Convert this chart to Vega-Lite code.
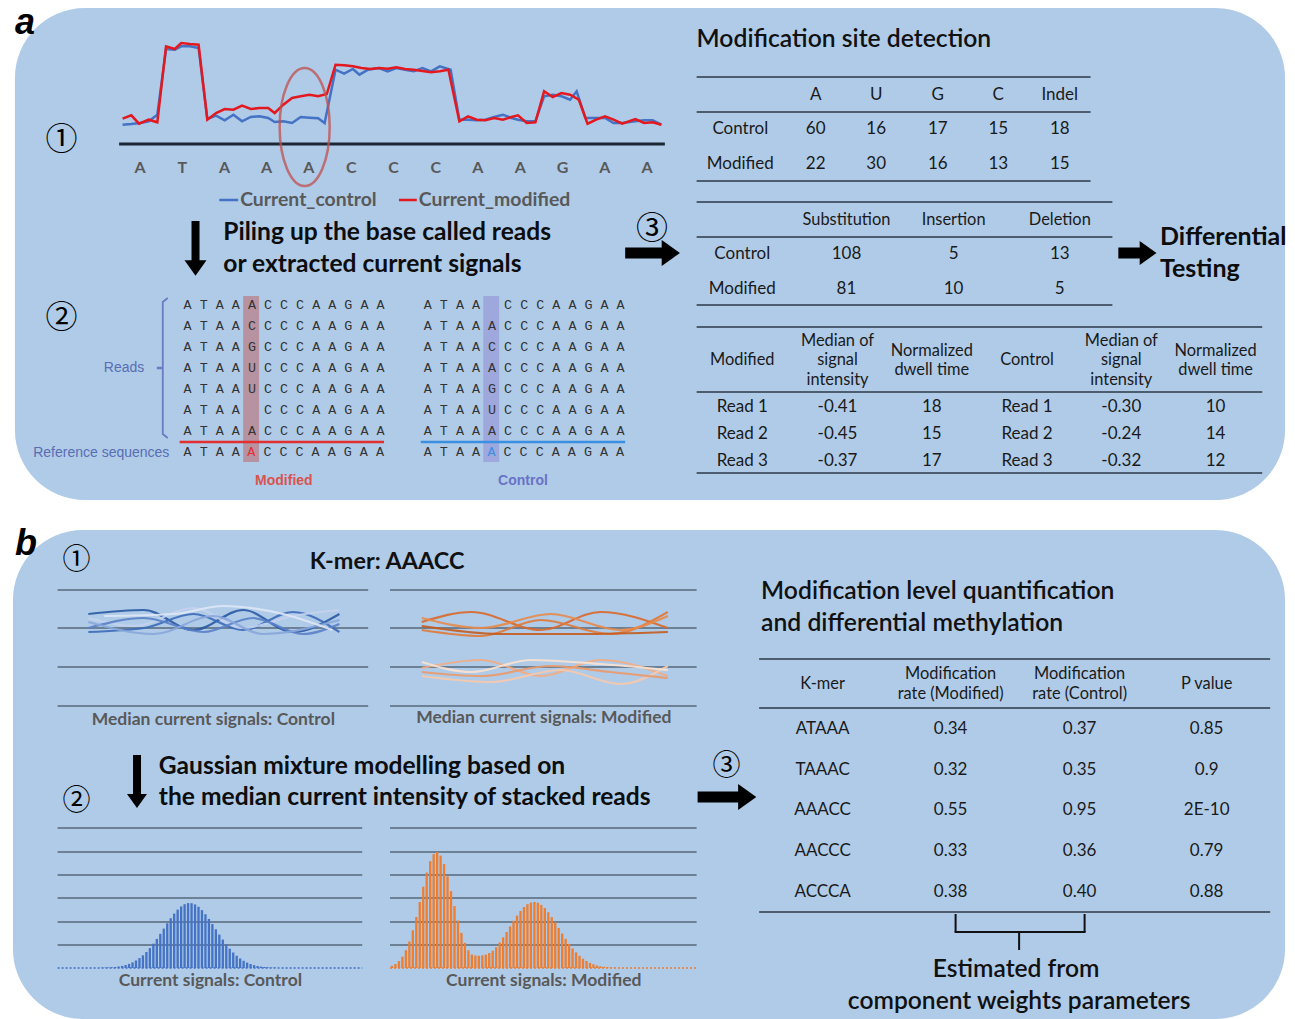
{
"$schema":"https://vega.github.io/schema/vega-lite/v6.json",
"width":1295,"height":1019,
"autosize":{"type":"none"},
"padding":0,
"background":"#ffffff",
"config":{"view":{"stroke":null}},
"resolve":{"scale":{"color":"independent"}},
"encoding":{
 "x":{"field":"x","type":"quantitative","scale":{"domain":[0,1295],"nice":false,"zero":false},"axis":null},
 "y":{"field":"y","type":"quantitative","scale":{"domain":[0,1019],"nice":false,"zero":false,"reverse":true},"axis":null}
},
"datasets":{
 "panels":[{"x":10,"x2":1290,"y":8,"y2":500},{"x":8,"x2":1290,"y":530,"y2":1019}],
 "hl":[{"x":240,"x2":256,"y":296,"y2":462,"k":"mod"},{"x":482,"x2":498,"y":296,"y2":462,"k":"ctl"}],
 "rules":[
  {"x":115,"y":144,"x2":665,"y2":144,"k":"axis"},
  {"x":697,"y":77,"x2":1094,"y2":77,"k":"tbl"},{"x":697,"y":112,"x2":1094,"y2":112,"k":"tbl"},{"x":697,"y":181,"x2":1094,"y2":181,"k":"tbl"},
  {"x":697,"y":202,"x2":1116,"y2":202,"k":"tbl"},{"x":697,"y":237,"x2":1116,"y2":237,"k":"tbl"},{"x":697,"y":305,"x2":1116,"y2":305,"k":"tbl"},
  {"x":697,"y":327,"x2":1267,"y2":327,"k":"tbl"},{"x":697,"y":392,"x2":1267,"y2":392,"k":"tbl"},{"x":697,"y":473,"x2":1267,"y2":473,"k":"tbl"},
  {"x":760,"y":659,"x2":1275,"y2":659,"k":"tbl"},{"x":760,"y":708,"x2":1275,"y2":708,"k":"tbl"},{"x":760,"y":912,"x2":1275,"y2":912,"k":"tbl"},
  {"x":53,"y":590,"x2":366,"y2":590,"k":"grid"},{"x":53,"y":628,"x2":366,"y2":628,"k":"grid"},{"x":53,"y":667,"x2":366,"y2":667,"k":"grid"},{"x":53,"y":706,"x2":366,"y2":706,"k":"grid"},
  {"x":388,"y":590,"x2":697,"y2":590,"k":"grid"},{"x":388,"y":628,"x2":697,"y2":628,"k":"grid"},{"x":388,"y":667,"x2":697,"y2":667,"k":"grid"},{"x":388,"y":706,"x2":697,"y2":706,"k":"grid"},
  {"x":53,"y":828,"x2":360,"y2":828,"k":"grid"},{"x":53,"y":852,"x2":360,"y2":852,"k":"grid"},{"x":53,"y":875,"x2":360,"y2":875,"k":"grid"},{"x":53,"y":898,"x2":360,"y2":898,"k":"grid"},{"x":53,"y":922,"x2":360,"y2":922,"k":"grid"},{"x":53,"y":945,"x2":360,"y2":945,"k":"grid"},
  {"x":388,"y":828,"x2":697,"y2":828,"k":"grid"},{"x":388,"y":852,"x2":697,"y2":852,"k":"grid"},{"x":388,"y":875,"x2":697,"y2":875,"k":"grid"},{"x":388,"y":898,"x2":697,"y2":898,"k":"grid"},{"x":388,"y":922,"x2":697,"y2":922,"k":"grid"},{"x":388,"y":945,"x2":697,"y2":945,"k":"grid"},
  {"x":53,"y":968,"x2":360,"y2":968,"k":"dotb"},{"x":388,"y":968,"x2":697,"y2":968,"k":"doto"},
  {"x":958,"y":914,"x2":958,"y2":932,"k":"brk"},{"x":957,"y":932,"x2":1089,"y2":932,"k":"brk"},{"x":1088,"y":914,"x2":1088,"y2":932,"k":"brk"},{"x":1022,"y":932,"x2":1022,"y2":950,"k":"brk"},
  {"x":216,"y":200,"x2":235,"y2":200,"k":"legc"},{"x":397,"y":200,"x2":415,"y2":200,"k":"legm"},
  {"x":176,"y":442,"x2":382,"y2":442,"k":"ulm"},{"x":419,"y":442,"x2":625,"y2":442,"k":"ulc"},
  {"x":153,"y":368,"x2":159,"y2":368,"k":"tick"},
  {"x":192,"y":221,"x2":192,"y2":262,"k":"shv"},{"x":133,"y":755,"x2":133,"y2":796,"k":"shv"},
  {"x":625,"y":253,"x2":666,"y2":253,"k":"shh"},{"x":1122,"y":253,"x2":1146,"y2":253,"k":"shh"},{"x":698,"y":797,"x2":742,"y2":797,"k":"shh"}
 ],
 "heads":[
  {"x":192,"y":268,"d":"down","s":"big"},{"x":133,"y":801,"d":"down","s":"small"},
  {"x":671,"y":253,"d":"right","s":"big"},{"x":1152,"y":253,"d":"right","s":"small"},{"x":748,"y":797,"d":"right","s":"big"}
 ],
 "brkt":[{"x":164,"y":298,"o":0},{"x":159,"y":302,"o":1},{"x":159,"y":434,"o":2},{"x":164,"y":438,"o":3}],
 "ellipse":[{"x":302,"y":127}],
 "sig":[
  {"s":"control","x":118.5,"y":124.7},{"s":"control","x":127.3,"y":124},{"s":"control","x":136,"y":123},{"s":"control","x":144.8,"y":121.3},{"s":"control","x":153.5,"y":114.7},{"s":"control","x":162.3,"y":49},{"s":"control","x":171.1,"y":49.7},{"s":"control","x":177.6,"y":46.3},{"s":"control","x":186.4,"y":46.3},{"s":"control","x":195.1,"y":48},{"s":"control","x":203.9,"y":119},{"s":"control","x":212.7,"y":115.7},{"s":"control","x":221.4,"y":120.3},{"s":"control","x":230.2,"y":114.7},{"s":"control","x":238.9,"y":121.3},{"s":"control","x":247.7,"y":117},{"s":"control","x":256.4,"y":116.3},{"s":"control","x":265.2,"y":118},{"s":"control","x":271.8,"y":122},{"s":"control","x":280.5,"y":121.3},{"s":"control","x":289.3,"y":123},{"s":"control","x":298,"y":117},{"s":"control","x":306.8,"y":117.7},{"s":"control","x":315.6,"y":118.3},{"s":"control","x":322.1,"y":123},{"s":"control","x":333.1,"y":69.7},{"s":"control","x":341.8,"y":73.7},{"s":"control","x":350.6,"y":69},{"s":"control","x":357.2,"y":74.7},{"s":"control","x":365.9,"y":69.7},{"s":"control","x":376.9,"y":68},{"s":"control","x":385.6,"y":71.3},{"s":"control","x":394.4,"y":68},{"s":"control","x":403.1,"y":69.7},{"s":"control","x":411.9,"y":71.3},{"s":"control","x":420.7,"y":68},{"s":"control","x":429.4,"y":71.3},{"s":"control","x":438.2,"y":66.3},{"s":"control","x":449.1,"y":69.7},{"s":"control","x":457.9,"y":119.7},{"s":"control","x":466.6,"y":119.7},{"s":"control","x":475.4,"y":120.3},{"s":"control","x":484.1,"y":119.7},{"s":"control","x":492.9,"y":117},{"s":"control","x":501.7,"y":114.7},{"s":"control","x":510.4,"y":118},{"s":"control","x":517,"y":119.7},{"s":"control","x":525.7,"y":121.3},{"s":"control","x":534.5,"y":121.3},{"s":"control","x":543.3,"y":96.3},{"s":"control","x":552,"y":94.7},{"s":"control","x":560.8,"y":96.3},{"s":"control","x":569.5,"y":99.7},{"s":"control","x":576.1,"y":91.3},{"s":"control","x":584.9,"y":118},{"s":"control","x":595.8,"y":118},{"s":"control","x":604.7,"y":118},{"s":"control","x":613.3,"y":123},{"s":"control","x":622.1,"y":123},{"s":"control","x":635.2,"y":121.3},{"s":"control","x":644,"y":120.3},{"s":"control","x":652.7,"y":120.3},{"s":"control","x":661.5,"y":124.7},
  {"s":"modified","x":118.5,"y":118.7},{"s":"modified","x":127.3,"y":115.3},{"s":"modified","x":135.1,"y":123.7},{"s":"modified","x":144.8,"y":119.7},{"s":"modified","x":153.5,"y":122.3},{"s":"modified","x":162.3,"y":46.3},{"s":"modified","x":171.1,"y":49},{"s":"modified","x":177.6,"y":43},{"s":"modified","x":186.4,"y":44},{"s":"modified","x":195.1,"y":44.7},{"s":"modified","x":203.9,"y":119.7},{"s":"modified","x":212.7,"y":113},{"s":"modified","x":221.4,"y":109},{"s":"modified","x":230.2,"y":109.7},{"s":"modified","x":238.9,"y":105.7},{"s":"modified","x":247.7,"y":109},{"s":"modified","x":256.4,"y":108},{"s":"modified","x":265.2,"y":108},{"s":"modified","x":271.8,"y":113},{"s":"modified","x":280.5,"y":104.7},{"s":"modified","x":289.3,"y":98},{"s":"modified","x":298,"y":96.3},{"s":"modified","x":306.8,"y":94.7},{"s":"modified","x":315.6,"y":96.3},{"s":"modified","x":324.3,"y":94},{"s":"modified","x":333.1,"y":64.7},{"s":"modified","x":341.8,"y":65.3},{"s":"modified","x":350.6,"y":66.3},{"s":"modified","x":359.3,"y":68},{"s":"modified","x":368.1,"y":69},{"s":"modified","x":376.9,"y":68},{"s":"modified","x":385.6,"y":68.7},{"s":"modified","x":394.4,"y":67.3},{"s":"modified","x":403.1,"y":69},{"s":"modified","x":411.9,"y":69.7},{"s":"modified","x":420.7,"y":71},{"s":"modified","x":429.4,"y":72.3},{"s":"modified","x":438.2,"y":71.3},{"s":"modified","x":446.9,"y":69.7},{"s":"modified","x":457.9,"y":121.3},{"s":"modified","x":466.6,"y":116.3},{"s":"modified","x":475.4,"y":119.7},{"s":"modified","x":484.1,"y":120.3},{"s":"modified","x":492.9,"y":118},{"s":"modified","x":501.7,"y":119.7},{"s":"modified","x":510.4,"y":117},{"s":"modified","x":517,"y":115.3},{"s":"modified","x":525.7,"y":123},{"s":"modified","x":534.5,"y":122.3},{"s":"modified","x":543.3,"y":91.3},{"s":"modified","x":552,"y":97},{"s":"modified","x":560.8,"y":93},{"s":"modified","x":569.5,"y":94.7},{"s":"modified","x":578.3,"y":99.7},{"s":"modified","x":587.1,"y":123.7},{"s":"modified","x":595.8,"y":119.7},{"s":"modified","x":604.7,"y":116.3},{"s":"modified","x":613.3,"y":119.7},{"s":"modified","x":622.1,"y":123.7},{"s":"modified","x":635.2,"y":119},{"s":"modified","x":644,"y":123},{"s":"modified","x":652.7,"y":122.3},{"s":"modified","x":661.5,"y":124.7}
 ],
 "wave":[
  {"c":"b1","x":84,"y":614},{"c":"b1","x":140,"y":610},{"c":"b1","x":190,"y":630},{"c":"b1","x":240,"y":610},{"c":"b1","x":290,"y":632},{"c":"b1","x":337,"y":614},
  {"c":"b2","x":84,"y":632},{"c":"b2","x":140,"y":628},{"c":"b2","x":190,"y":614},{"c":"b2","x":240,"y":630},{"c":"b2","x":290,"y":612},{"c":"b2","x":337,"y":632},
  {"c":"b3","x":84,"y":618},{"c":"b3","x":130,"y":626},{"c":"b3","x":190,"y":608},{"c":"b3","x":240,"y":628},{"c":"b3","x":290,"y":616},{"c":"b3","x":337,"y":610},
  {"c":"b4","x":84,"y":628},{"c":"b4","x":140,"y":618},{"c":"b4","x":200,"y":632},{"c":"b4","x":250,"y":618},{"c":"b4","x":300,"y":634},{"c":"b4","x":337,"y":624},
  {"c":"b5","x":84,"y":622},{"c":"b5","x":150,"y":634},{"c":"b5","x":210,"y":616},{"c":"b5","x":260,"y":634},{"c":"b5","x":337,"y":620},
  {"c":"b6","x":100,"y":616},{"c":"b6","x":170,"y":614},{"c":"b6","x":220,"y":606},{"c":"b6","x":280,"y":614},{"c":"b6","x":330,"y":630},
  {"c":"o1","x":420,"y":622},{"c":"o1","x":470,"y":612},{"c":"o1","x":540,"y":630},{"c":"o1","x":600,"y":612},{"c":"o1","x":668,"y":628},
  {"c":"o2","x":420,"y":630},{"c":"o2","x":480,"y":636},{"c":"o2","x":540,"y":620},{"c":"o2","x":610,"y":634},{"c":"o2","x":668,"y":612},
  {"c":"o3","x":420,"y":626},{"c":"o3","x":500,"y":634},{"c":"o3","x":580,"y":634},{"c":"o3","x":668,"y":632},
  {"c":"o4","x":420,"y":618},{"c":"o4","x":480,"y":628},{"c":"o4","x":550,"y":614},{"c":"o4","x":620,"y":630},{"c":"o4","x":668,"y":616},
  {"c":"l1","x":420,"y":668},{"c":"l1","x":480,"y":660},{"c":"l1","x":540,"y":676},{"c":"l1","x":600,"y":660},{"c":"l1","x":668,"y":676},
  {"c":"l2","x":420,"y":676},{"c":"l2","x":490,"y":682},{"c":"l2","x":560,"y":670},{"c":"l2","x":620,"y":684},{"c":"l2","x":668,"y":666},
  {"c":"l3","x":420,"y":662},{"c":"l3","x":470,"y":672},{"c":"l3","x":530,"y":660},{"c":"l3","x":600,"y":664},{"c":"l3","x":668,"y":670},
  {"c":"l4","x":420,"y":672},{"c":"l4","x":480,"y":676},{"c":"l4","x":550,"y":666},{"c":"l4","x":610,"y":672},{"c":"l4","x":668,"y":678}
 ],
 "hist":[
  {"s":"c","x":97,"y":967.8},{"s":"c","x":100.5,"y":967.7},{"s":"c","x":104,"y":967.5},{"s":"c","x":107.5,"y":967.3},{"s":"c","x":111,"y":967},{"s":"c","x":114.5,"y":966.5},{"s":"c","x":118,"y":965.9},{"s":"c","x":121.5,"y":965},{"s":"c","x":125,"y":963.9},{"s":"c","x":128.5,"y":962.4},{"s":"c","x":132,"y":960.5},{"s":"c","x":135.5,"y":958.1},{"s":"c","x":139,"y":955.3},{"s":"c","x":142.5,"y":952},{"s":"c","x":146,"y":948.1},{"s":"c","x":149.5,"y":943.7},{"s":"c","x":153,"y":938.9},{"s":"c","x":156.5,"y":933.8},{"s":"c","x":160,"y":928.6},{"s":"c","x":163.5,"y":923.3},{"s":"c","x":167,"y":918.2},{"s":"c","x":170.5,"y":913.6},{"s":"c","x":174,"y":909.6},{"s":"c","x":177.5,"y":906.4},{"s":"c","x":181,"y":904.2},{"s":"c","x":184.5,"y":903.1},{"s":"c","x":188,"y":903.2},{"s":"c","x":191.5,"y":904.4},{"s":"c","x":195,"y":906.8},{"s":"c","x":198.5,"y":910.1},{"s":"c","x":202,"y":914.2},{"s":"c","x":205.5,"y":918.9},{"s":"c","x":209,"y":924.1},{"s":"c","x":212.5,"y":929.3},{"s":"c","x":216,"y":934.6},{"s":"c","x":219.5,"y":939.6},{"s":"c","x":223,"y":944.4},{"s":"c","x":226.5,"y":948.7},{"s":"c","x":230,"y":952.5},{"s":"c","x":233.5,"y":955.8},{"s":"c","x":237,"y":958.5},{"s":"c","x":240.5,"y":960.8},{"s":"c","x":244,"y":962.6},{"s":"c","x":247.5,"y":964},{"s":"c","x":251,"y":965.1},{"s":"c","x":254.5,"y":966},{"s":"c","x":258,"y":966.6},{"s":"c","x":261.5,"y":967},{"s":"c","x":265,"y":967.4},{"s":"c","x":268.5,"y":967.6},{"s":"c","x":272,"y":967.7},
  {"s":"m","x":390,"y":965.8},{"s":"m","x":393.5,"y":964},{"s":"m","x":397,"y":961.1},{"s":"m","x":400.5,"y":956.7},{"s":"m","x":404,"y":950.3},{"s":"m","x":407.5,"y":941.5},{"s":"m","x":411,"y":930.3},{"s":"m","x":414.5,"y":917},{"s":"m","x":418,"y":902},{"s":"m","x":421.5,"y":886.7},{"s":"m","x":425,"y":872.6},{"s":"m","x":428.5,"y":861.2},{"s":"m","x":432,"y":854},{"s":"m","x":435.5,"y":852},{"s":"m","x":439,"y":855.6},{"s":"m","x":442.5,"y":864.1},{"s":"m","x":446,"y":876.4},{"s":"m","x":449.5,"y":891.1},{"s":"m","x":453,"y":906.1},{"s":"m","x":456.5,"y":920.5},{"s":"m","x":460,"y":932.9},{"s":"m","x":463.5,"y":942.9},{"s":"m","x":467,"y":950.3},{"s":"m","x":470.5,"y":954.5},{"s":"m","x":474,"y":955.5},{"s":"m","x":477.5,"y":955.8},{"s":"m","x":481,"y":955.4},{"s":"m","x":484.5,"y":954.6},{"s":"m","x":488,"y":953},{"s":"m","x":491.5,"y":950.8},{"s":"m","x":495,"y":947.2},{"s":"m","x":498.5,"y":942.5},{"s":"m","x":502,"y":937.4},{"s":"m","x":505.5,"y":932},{"s":"m","x":509,"y":926.4},{"s":"m","x":512.5,"y":920.8},{"s":"m","x":516,"y":915.6},{"s":"m","x":519.5,"y":911},{"s":"m","x":523,"y":907.1},{"s":"m","x":526.5,"y":904.2},{"s":"m","x":530,"y":902.5},{"s":"m","x":533.5,"y":902},{"s":"m","x":537,"y":902.8},{"s":"m","x":540.5,"y":904.9},{"s":"m","x":544,"y":908.1},{"s":"m","x":547.5,"y":912.2},{"s":"m","x":551,"y":917.1},{"s":"m","x":554.5,"y":922.4},{"s":"m","x":558,"y":928},{"s":"m","x":561.5,"y":933.5},{"s":"m","x":565,"y":938.9},{"s":"m","x":568.5,"y":943.9},{"s":"m","x":572,"y":948.5},{"s":"m","x":575.5,"y":952.4},{"s":"m","x":579,"y":955.9},{"s":"m","x":582.5,"y":958.7},{"s":"m","x":586,"y":961},{"s":"m","x":589.5,"y":962.9},{"s":"m","x":593,"y":964.3},{"s":"m","x":596.5,"y":965.4},{"s":"m","x":600,"y":966.2},{"s":"m","x":603.5,"y":966.8},{"s":"m","x":607,"y":967.2},{"s":"m","x":610.5,"y":967.5},{"s":"m","x":614,"y":967.7}
 ],
 "t":[
  {"g":"P","x":10,"y":34,"text":"a"},{"g":"P","x":10,"y":555,"text":"b"},
  {"g":"C1","x":57,"y":140,"text":"①"},{"g":"C1","x":57,"y":318,"text":"②"},{"g":"C1","x":652,"y":229,"text":"③"},
  {"g":"C2","x":72,"y":561,"text":"①"},{"g":"C2","x":72,"y":802,"text":"②"},{"g":"C2","x":727,"y":767,"text":"③"},
  {"g":"H","x":220,"y":233,"text":"Piling up the base called reads"},{"g":"H","x":220,"y":265,"text":"or extracted current signals"},
  {"g":"HD","x":1164,"y":237,"text":"Differential"},{"g":"HD","x":1164,"y":269,"text":"Testing"},
  {"g":"H","x":155,"y":767,"text":"Gaussian mixture modelling based on"},{"g":"H","x":155,"y":798,"text":"the median current intensity of stacked reads"},
  {"g":"T","x":697,"y":40,"text":"Modification site detection"},
  {"g":"T","x":762,"y":592,"text":"Modification level quantification"},{"g":"T","x":762,"y":624,"text":"and differential methylation"},
  {"g":"KB","x":385,"y":562,"text":"K-mer: AAACC"},{"g":"K","x":1019,"y":970,"text":"Estimated from"},{"g":"K","x":1022,"y":1002,"text":"component weights parameters"},
  {"g":"TB","x":817,"y":95,"text":"A"},{"g":"TB","x":878,"y":95,"text":"U"},{"g":"TB","x":940,"y":95,"text":"G"},{"g":"TB","x":1001,"y":95,"text":"C"},{"g":"TB","x":1063,"y":95,"text":"Indel"},
  {"g":"TB","x":741,"y":129,"text":"Control"},{"g":"TB","x":817,"y":129,"text":"60"},{"g":"TB","x":878,"y":129,"text":"16"},{"g":"TB","x":940,"y":129,"text":"17"},{"g":"TB","x":1001,"y":129,"text":"15"},{"g":"TB","x":1063,"y":129,"text":"18"},
  {"g":"TB","x":741,"y":164,"text":"Modified"},{"g":"TB","x":817,"y":164,"text":"22"},{"g":"TB","x":878,"y":164,"text":"30"},{"g":"TB","x":940,"y":164,"text":"16"},{"g":"TB","x":1001,"y":164,"text":"13"},{"g":"TB","x":1063,"y":164,"text":"15"},
  {"g":"TH","x":848,"y":220,"text":"Substitution"},{"g":"TH","x":956,"y":220,"text":"Insertion"},{"g":"TH","x":1063,"y":220,"text":"Deletion"},
  {"g":"TB","x":743,"y":254,"text":"Control"},{"g":"TB","x":848,"y":254,"text":"108"},{"g":"TB","x":956,"y":254,"text":"5"},{"g":"TB","x":1063,"y":254,"text":"13"},
  {"g":"TB","x":743,"y":289,"text":"Modified"},{"g":"TB","x":848,"y":289,"text":"81"},{"g":"TB","x":956,"y":289,"text":"10"},{"g":"TB","x":1063,"y":289,"text":"5"},
  {"g":"TH","x":743,"y":360,"text":"Modified"},{"g":"TH","x":839,"y":341,"text":"Median of"},{"g":"TH","x":839,"y":360,"text":"signal"},{"g":"TH","x":839,"y":380,"text":"intensity"},
  {"g":"TH","x":934,"y":351,"text":"Normalized"},{"g":"TH","x":934,"y":370,"text":"dwell time"},
  {"g":"TH","x":1030,"y":360,"text":"Control"},{"g":"TH","x":1125,"y":341,"text":"Median of"},{"g":"TH","x":1125,"y":360,"text":"signal"},{"g":"TH","x":1125,"y":380,"text":"intensity"},
  {"g":"TH","x":1220,"y":351,"text":"Normalized"},{"g":"TH","x":1220,"y":370,"text":"dwell time"},
  {"g":"TB","x":743,"y":407,"text":"Read 1"},{"g":"TB","x":839,"y":407,"text":"-0.41"},{"g":"TB","x":934,"y":407,"text":"18"},{"g":"TB","x":1030,"y":407,"text":"Read 1"},{"g":"TB","x":1125,"y":407,"text":"-0.30"},{"g":"TB","x":1220,"y":407,"text":"10"},
  {"g":"TB","x":743,"y":434,"text":"Read 2"},{"g":"TB","x":839,"y":434,"text":"-0.45"},{"g":"TB","x":934,"y":434,"text":"15"},{"g":"TB","x":1030,"y":434,"text":"Read 2"},{"g":"TB","x":1125,"y":434,"text":"-0.24"},{"g":"TB","x":1220,"y":434,"text":"14"},
  {"g":"TB","x":743,"y":461,"text":"Read 3"},{"g":"TB","x":839,"y":461,"text":"-0.37"},{"g":"TB","x":934,"y":461,"text":"17"},{"g":"TB","x":1030,"y":461,"text":"Read 3"},{"g":"TB","x":1125,"y":461,"text":"-0.32"},{"g":"TB","x":1220,"y":461,"text":"12"},
  {"g":"TH","x":824,"y":684,"text":"K-mer"},{"g":"TH","x":953,"y":674,"text":"Modification"},{"g":"TH","x":953,"y":694,"text":"rate (Modified)"},{"g":"TH","x":1083,"y":674,"text":"Modification"},{"g":"TH","x":1083,"y":694,"text":"rate (Control)"},{"g":"TH","x":1211,"y":684,"text":"P value"},
  {"g":"TB","x":824,"y":729,"text":"ATAAA"},{"g":"TB","x":953,"y":729,"text":"0.34"},{"g":"TB","x":1083,"y":729,"text":"0.37"},{"g":"TB","x":1211,"y":729,"text":"0.85"},
  {"g":"TB","x":824,"y":770,"text":"TAAAC"},{"g":"TB","x":953,"y":770,"text":"0.32"},{"g":"TB","x":1083,"y":770,"text":"0.35"},{"g":"TB","x":1211,"y":770,"text":"0.9"},
  {"g":"TB","x":824,"y":810,"text":"AAACC"},{"g":"TB","x":953,"y":810,"text":"0.55"},{"g":"TB","x":1083,"y":810,"text":"0.95"},{"g":"TB","x":1211,"y":810,"text":"2E-10"},
  {"g":"TB","x":824,"y":851,"text":"AACCC"},{"g":"TB","x":953,"y":851,"text":"0.33"},{"g":"TB","x":1083,"y":851,"text":"0.36"},{"g":"TB","x":1211,"y":851,"text":"0.79"},
  {"g":"TB","x":824,"y":892,"text":"ACCCA"},{"g":"TB","x":953,"y":892,"text":"0.38"},{"g":"TB","x":1083,"y":892,"text":"0.40"},{"g":"TB","x":1211,"y":892,"text":"0.88"},
  {"g":"SL","x":136,"y":168,"text":"A"},{"g":"SL","x":178.6,"y":168,"text":"T"},{"g":"SL","x":221.2,"y":168,"text":"A"},{"g":"SL","x":263.7,"y":168,"text":"A"},{"g":"SL","x":306.3,"y":168,"text":"A"},{"g":"SL","x":348.9,"y":168,"text":"C"},{"g":"SL","x":391.5,"y":168,"text":"C"},{"g":"SL","x":434.1,"y":168,"text":"C"},{"g":"SL","x":476.6,"y":168,"text":"A"},{"g":"SL","x":519.2,"y":168,"text":"A"},{"g":"SL","x":561.8,"y":168,"text":"G"},{"g":"SL","x":604.4,"y":168,"text":"A"},{"g":"SL","x":647,"y":168,"text":"A"},
  {"g":"LG","x":237,"y":200,"text":"Current_control"},{"g":"LG","x":417,"y":200,"text":"Current_modified"},
  {"g":"CP","x":210,"y":720,"text":"Median current signals: Control"},{"g":"CP","x":543,"y":718,"text":"Median current signals: Modified"},
  {"g":"CP","x":207,"y":981,"text":"Current signals: Control"},{"g":"CP","x":543,"y":981,"text":"Current signals: Modified"},
  {"g":"RD","x":120,"y":368,"text":"Reads"},{"g":"RD","x":97,"y":453,"text":"Reference sequences"},
  {"g":"ML","x":281,"y":481,"text":"Modified"},{"g":"CL","x":522,"y":481,"text":"Control"},
  {"g":"SQ","x":180,"y":305,"text":"A\u00a0T\u00a0A\u00a0A\u00a0A\u00a0C\u00a0C\u00a0C\u00a0A\u00a0A\u00a0G\u00a0A\u00a0A"},
  {"g":"SQ","x":180,"y":326,"text":"A\u00a0T\u00a0A\u00a0A\u00a0C\u00a0C\u00a0C\u00a0C\u00a0A\u00a0A\u00a0G\u00a0A\u00a0A"},
  {"g":"SQ","x":180,"y":347,"text":"A\u00a0T\u00a0A\u00a0A\u00a0G\u00a0C\u00a0C\u00a0C\u00a0A\u00a0A\u00a0G\u00a0A\u00a0A"},
  {"g":"SQ","x":180,"y":368,"text":"A\u00a0T\u00a0A\u00a0A\u00a0U\u00a0C\u00a0C\u00a0C\u00a0A\u00a0A\u00a0G\u00a0A\u00a0A"},
  {"g":"SQ","x":180,"y":389,"text":"A\u00a0T\u00a0A\u00a0A\u00a0U\u00a0C\u00a0C\u00a0C\u00a0A\u00a0A\u00a0G\u00a0A\u00a0A"},
  {"g":"SQ","x":180,"y":410,"text":"A\u00a0T\u00a0A\u00a0A\u00a0\u00a0\u00a0C\u00a0C\u00a0C\u00a0A\u00a0A\u00a0G\u00a0A\u00a0A"},
  {"g":"SQ","x":180,"y":431,"text":"A\u00a0T\u00a0A\u00a0A\u00a0A\u00a0C\u00a0C\u00a0C\u00a0A\u00a0A\u00a0G\u00a0A\u00a0A"},
  {"g":"SQ","x":180,"y":452,"text":"A\u00a0T\u00a0A\u00a0A"},{"g":"SQ","x":260.4,"y":452,"text":"C\u00a0C\u00a0C\u00a0A\u00a0A\u00a0G\u00a0A\u00a0A"},
  {"g":"SQ","x":422,"y":305,"text":"A\u00a0T\u00a0A\u00a0A\u00a0\u00a0\u00a0C\u00a0C\u00a0C\u00a0A\u00a0A\u00a0G\u00a0A\u00a0A"},
  {"g":"SQ","x":422,"y":326,"text":"A\u00a0T\u00a0A\u00a0A\u00a0A\u00a0C\u00a0C\u00a0C\u00a0A\u00a0A\u00a0G\u00a0A\u00a0A"},
  {"g":"SQ","x":422,"y":347,"text":"A\u00a0T\u00a0A\u00a0A\u00a0C\u00a0C\u00a0C\u00a0C\u00a0A\u00a0A\u00a0G\u00a0A\u00a0A"},
  {"g":"SQ","x":422,"y":368,"text":"A\u00a0T\u00a0A\u00a0A\u00a0A\u00a0C\u00a0C\u00a0C\u00a0A\u00a0A\u00a0G\u00a0A\u00a0A"},
  {"g":"SQ","x":422,"y":389,"text":"A\u00a0T\u00a0A\u00a0A\u00a0G\u00a0C\u00a0C\u00a0C\u00a0A\u00a0A\u00a0G\u00a0A\u00a0A"},
  {"g":"SQ","x":422,"y":410,"text":"A\u00a0T\u00a0A\u00a0A\u00a0U\u00a0C\u00a0C\u00a0C\u00a0A\u00a0A\u00a0G\u00a0A\u00a0A"},
  {"g":"SQ","x":422,"y":431,"text":"A\u00a0T\u00a0A\u00a0A\u00a0A\u00a0C\u00a0C\u00a0C\u00a0A\u00a0A\u00a0G\u00a0A\u00a0A"},
  {"g":"SQ","x":422,"y":452,"text":"A\u00a0T\u00a0A\u00a0A"},{"g":"SQ","x":502.4,"y":452,"text":"C\u00a0C\u00a0C\u00a0A\u00a0A\u00a0G\u00a0A\u00a0A"},
  {"g":"SR","x":248.3,"y":452,"text":"A"},{"g":"SB","x":490.3,"y":452,"text":"A"}
 ]
},
"layer":[
 {"data":{"name":"panels"},"mark":{"type":"rect","color":"#afcbe8","cornerRadius":70},"encoding":{"x2":{"field":"x2"},"y2":{"field":"y2"}}},
 {"data":{"name":"hl"},"mark":{"type":"rect","opacity":0.45},"encoding":{"x2":{"field":"x2"},"y2":{"field":"y2"},"color":{"field":"k","type":"nominal","scale":{"domain":["mod","ctl"],"range":["#c0504d","#8a7fd0"]},"legend":null}}},
 {"data":{"name":"rules"},"transform":[{"filter":"datum.k=='grid'"}],"mark":{"type":"rule","color":"#56687a","strokeWidth":1.5},"encoding":{"x2":{"field":"x2"},"y2":{"field":"y2"}}},
 {"data":{"name":"rules"},"transform":[{"filter":"datum.k=='tbl'"}],"mark":{"type":"rule","color":"#4b5d6e","strokeWidth":2},"encoding":{"x2":{"field":"x2"},"y2":{"field":"y2"}}},
 {"data":{"name":"rules"},"transform":[{"filter":"datum.k=='axis'"}],"mark":{"type":"rule","color":"#1d2733","strokeWidth":3},"encoding":{"x2":{"field":"x2"},"y2":{"field":"y2"}}},
 {"data":{"name":"rules"},"transform":[{"filter":"datum.k=='dotb' || datum.k=='doto'"}],"mark":{"type":"rule","strokeWidth":1.5,"strokeDash":[2,2]},"encoding":{"x2":{"field":"x2"},"y2":{"field":"y2"},"color":{"field":"k","type":"nominal","scale":{"domain":["dotb","doto"],"range":["#4472c4","#ed7d31"]},"legend":null}}},
 {"data":{"name":"hist"},"mark":{"type":"bar","width":2.3},"encoding":{"y2":{"datum":968},"color":{"field":"s","type":"nominal","scale":{"domain":["c","m"],"range":["#4472c4","#ed7d31"]},"legend":null}}},
 {"data":{"name":"wave"},"mark":{"type":"line","interpolate":"monotone","strokeWidth":2.2,"opacity":0.9},"encoding":{"color":{"field":"c","type":"nominal","scale":{"domain":["b6","b3","b5","b4","b2","b1","l3","l2","l1","l4","o4","o2","o1","o3"],"range":["#dfe7f5","#c3d2ee","#8aa6dc","#5a80c8","#3c6cb8","#2b5aa3","#fbe2d2","#f7c9ad","#f2ac84","#eb9a6c","#e8894a","#e07a3a","#d9682a","#c45c1e"]},"legend":null}}},
 {"data":{"name":"sig"},"transform":[{"filter":"datum.s=='control'"}],"mark":{"type":"line","color":"#4472c4","strokeWidth":2.5},"encoding":{}},
 {"data":{"name":"sig"},"transform":[{"filter":"datum.s=='modified'"}],"mark":{"type":"line","color":"#e3191f","strokeWidth":2.5},"encoding":{}},
 {"data":{"name":"ellipse"},"mark":{"type":"point","shape":"M0,-1A0.424,1 0 1,1 0,1A0.424,1 0 1,1 0,-1Z","size":13924,"filled":false,"stroke":"#c0504d","strokeWidth":2.5,"opacity":0.75},"encoding":{}},
 {"data":{"name":"rules"},"transform":[{"filter":"indexof(['legc','legm','ulm','ulc','tick'], datum.k) >= 0"}],"mark":{"type":"rule","strokeWidth":2.5},"encoding":{"x2":{"field":"x2"},"y2":{"field":"y2"},"color":{"field":"k","type":"nominal","scale":{"domain":["legc","legm","ulm","ulc","tick"],"range":["#4472c4","#e3191f","#e03030","#3b8ee0","#6b7cc0"]},"legend":null}}},
 {"data":{"name":"brkt"},"mark":{"type":"line","color":"#6b7cc0","strokeWidth":1.8},"encoding":{"order":{"field":"o","type":"quantitative"}}},
 {"data":{"name":"rules"},"transform":[{"filter":"datum.k=='brk'"}],"mark":{"type":"rule","color":"#111111","strokeWidth":2},"encoding":{"x2":{"field":"x2"},"y2":{"field":"y2"}}},
 {"data":{"name":"rules"},"transform":[{"filter":"datum.k=='shv'"}],"mark":{"type":"rule","color":"#000000","strokeWidth":8},"encoding":{"x2":{"field":"x2"},"y2":{"field":"y2"}}},
 {"data":{"name":"rules"},"transform":[{"filter":"datum.k=='shh'"}],"mark":{"type":"rule","color":"#000000","strokeWidth":11},"encoding":{"x2":{"field":"x2"},"y2":{"field":"y2"}}},
 {"data":{"name":"heads"},"transform":[{"filter":"datum.d=='down' && datum.s=='big'"}],"mark":{"type":"point","shape":"M-1,-0.7L1,-0.7L0,0.7Z","size":484,"filled":true,"color":"#000000","opacity":1},"encoding":{}},
 {"data":{"name":"heads"},"transform":[{"filter":"datum.d=='down' && datum.s=='small'"}],"mark":{"type":"point","shape":"M-1,-0.7L1,-0.7L0,0.7Z","size":400,"filled":true,"color":"#000000","opacity":1},"encoding":{}},
 {"data":{"name":"heads"},"transform":[{"filter":"datum.d=='right' && datum.s=='big'"}],"mark":{"type":"point","shape":"M-0.7,-1L0.7,0L-0.7,1Z","size":676,"filled":true,"color":"#000000","opacity":1},"encoding":{}},
 {"data":{"name":"heads"},"transform":[{"filter":"datum.d=='right' && datum.s=='small'"}],"mark":{"type":"point","shape":"M-0.7,-1L0.7,0L-0.7,1Z","size":576,"filled":true,"color":"#000000","opacity":1},"encoding":{}},
 {"data":{"name":"t"},"transform":[{"filter":"datum.g=='P'"}],"mark":{"type":"text","font":"Liberation Sans","fontSize":36,"fontWeight":"bold","fontStyle":"italic","align":"left","baseline":"alphabetic","color":"#000000"},"encoding":{"text":{"field":"text"}}},
 {"data":{"name":"t"},"transform":[{"filter":"datum.g=='C1'"}],"mark":{"type":"text","font":"Noto Sans CJK SC","fontSize":32,"align":"center","baseline":"middle","color":"#000000"},"encoding":{"text":{"field":"text"}}},
 {"data":{"name":"t"},"transform":[{"filter":"datum.g=='C2'"}],"mark":{"type":"text","font":"Noto Sans CJK SC","fontSize":28,"align":"center","baseline":"middle","color":"#000000"},"encoding":{"text":{"field":"text"}}},
 {"data":{"name":"t"},"transform":[{"filter":"datum.g=='H'"}],"mark":{"type":"text","font":"Lato","fontSize":24.6,"fontWeight":"bold","align":"left","baseline":"middle","color":"#0d0d0d"},"encoding":{"text":{"field":"text"}}},
 {"data":{"name":"t"},"transform":[{"filter":"datum.g=='HD'"}],"mark":{"type":"text","font":"Lato","fontSize":25,"fontWeight":"bold","align":"left","baseline":"middle","color":"#0d0d0d"},"encoding":{"text":{"field":"text"}}},
 {"data":{"name":"t"},"transform":[{"filter":"datum.g=='T'"}],"mark":{"type":"text","font":"Lato","fontSize":24.7,"fontWeight":600,"align":"left","baseline":"middle","color":"#111111"},"encoding":{"text":{"field":"text"}}},
 {"data":{"name":"t"},"transform":[{"filter":"datum.g=='K'"}],"mark":{"type":"text","font":"Lato","fontSize":24.6,"fontWeight":600,"align":"center","baseline":"middle","color":"#111111"},"encoding":{"text":{"field":"text"}}},
 {"data":{"name":"t"},"transform":[{"filter":"datum.g=='KB'"}],"mark":{"type":"text","font":"Lato","fontSize":23.4,"fontWeight":"bold","align":"center","baseline":"middle","color":"#111111"},"encoding":{"text":{"field":"text"}}},
 {"data":{"name":"t"},"transform":[{"filter":"datum.g=='TB'"}],"mark":{"type":"text","font":"Lato","fontSize":17,"align":"center","baseline":"middle","color":"#1a1a1a"},"encoding":{"text":{"field":"text"}}},
 {"data":{"name":"t"},"transform":[{"filter":"datum.g=='TH'"}],"mark":{"type":"text","font":"Lato","fontSize":16.4,"align":"center","baseline":"middle","color":"#1a1a1a"},"encoding":{"text":{"field":"text"}}},
 {"data":{"name":"t"},"transform":[{"filter":"datum.g=='SL'"}],"mark":{"type":"text","font":"Lato","fontSize":16,"fontWeight":"bold","align":"center","baseline":"middle","color":"#595959"},"encoding":{"text":{"field":"text"}}},
 {"data":{"name":"t"},"transform":[{"filter":"datum.g=='LG'"}],"mark":{"type":"text","font":"Lato","fontSize":19.4,"fontWeight":"bold","align":"left","baseline":"middle","color":"#595959"},"encoding":{"text":{"field":"text"}}},
 {"data":{"name":"t"},"transform":[{"filter":"datum.g=='CP'"}],"mark":{"type":"text","font":"Lato","fontSize":17.5,"fontWeight":"bold","align":"center","baseline":"middle","color":"#595959"},"encoding":{"text":{"field":"text"}}},
 {"data":{"name":"t"},"transform":[{"filter":"datum.g=='RD'"}],"mark":{"type":"text","font":"Liberation Sans","fontSize":14,"align":"center","baseline":"middle","color":"#5a6db2"},"encoding":{"text":{"field":"text"}}},
 {"data":{"name":"t"},"transform":[{"filter":"datum.g=='ML'"}],"mark":{"type":"text","font":"Liberation Sans","fontSize":14,"fontWeight":"bold","align":"center","baseline":"middle","color":"#d9534f"},"encoding":{"text":{"field":"text"}}},
 {"data":{"name":"t"},"transform":[{"filter":"datum.g=='CL'"}],"mark":{"type":"text","font":"Liberation Sans","fontSize":14,"fontWeight":"bold","align":"center","baseline":"middle","color":"#6a72c6"},"encoding":{"text":{"field":"text"}}},
 {"data":{"name":"t"},"transform":[{"filter":"datum.g=='SQ'"}],"mark":{"type":"text","font":"Liberation Mono","fontSize":13.4,"align":"left","baseline":"middle","color":"#333333"},"encoding":{"text":{"field":"text"}}},
 {"data":{"name":"t"},"transform":[{"filter":"datum.g=='SR'"}],"mark":{"type":"text","font":"Liberation Mono","fontSize":13.4,"align":"center","baseline":"middle","color":"#e03030"},"encoding":{"text":{"field":"text"}}},
 {"data":{"name":"t"},"transform":[{"filter":"datum.g=='SB'"}],"mark":{"type":"text","font":"Liberation Mono","fontSize":13.4,"align":"center","baseline":"middle","color":"#3b8ee0"},"encoding":{"text":{"field":"text"}}}
]
}
